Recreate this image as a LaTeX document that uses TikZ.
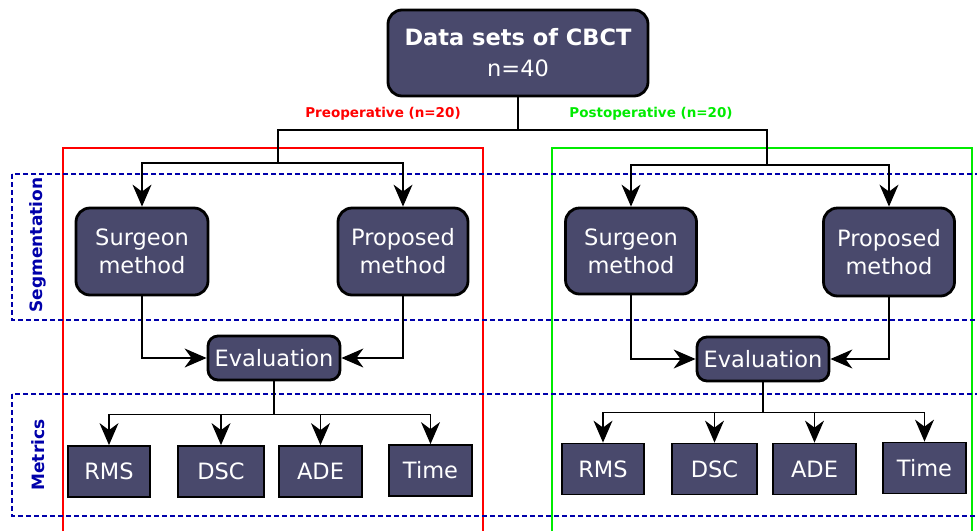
\documentclass[tikz,border=0pt]{standalone}
\usepackage{fontspec}
\setmainfont{DejaVu Sans}
\usetikzlibrary{arrows.meta}

\definecolor{boxfill}{RGB}{73,73,108}
\definecolor{segblue}{RGB}{0,0,170}
\definecolor{postgreen}{RGB}{0,235,0}

\begin{document}
\begin{tikzpicture}[x=1pt, y=-1pt,
    box/.style={draw=black, line width=2.8pt, rounded corners=14pt, fill=boxfill, text=white, align=center, font=\fontsize{22.5}{28}\selectfont},
    metric/.style={draw=black, line width=1.8pt, fill=boxfill, text=white, minimum height=51pt, font=\fontsize{22.5}{28}\selectfont},
    arr/.style={line width=1.3pt, -{Stealth[length=22pt, width=19pt, inset=7pt]}},
    link/.style={line width=1.3pt},
    region/.style={segblue, line width=1.4pt, dash pattern=on 5pt off 3pt},
    regionlabel/.style={segblue, rotate=90, font=\fontsize{17}{18}\selectfont\bfseries}]

\useasboundingbox (0,0) rectangle (977,531);

\draw[red, line width=1.5pt] (63,531) -- (63,148) -- (483,148) -- (483,531);
\draw[postgreen, line width=1.5pt] (552,531) -- (552,148) -- (972,148) -- (972,531);

\draw[region] (12,174) rectangle (990,320);
\draw[region] (12,394) rectangle (990,516);
\node[regionlabel] (seg) at (38,245) {Segmentation};
\node[regionlabel] (met) at (38,455) {Metrics};

\node[box, minimum width=260pt, minimum height=86pt, text depth=2pt] (data) at (518,53) {\textbf{Data sets of CBCT}\\[3pt]n=40};

\node[red, font=\fontsize{13.5}{16}\selectfont\bfseries] (pre) at (383,114) {Preoperative (n=20)};
\node[postgreen, font=\fontsize{13.5}{16}\selectfont\bfseries] (post) at (651,114) {Postoperative (n=20)};

\node[box, minimum width=132pt, minimum height=87pt] (sur1) at (142,251.5) {Surgeon\\method};
\node[box, minimum width=130pt, minimum height=87pt] (pro1) at (403,251.5) {Proposed\\method};
\node[box, minimum width=131pt, minimum height=86pt] (sur2) at (631,251) {Surgeon\\method};
\node[box, minimum width=131pt, minimum height=88pt] (pro2) at (889,252) {Proposed\\method};

\node[box, rounded corners=10pt, minimum width=132pt, minimum height=44pt, inner sep=2pt] (eva1) at (274,358) {Evaluation};
\node[box, rounded corners=10pt, minimum width=132pt, minimum height=44pt, inner sep=2pt] (eva2) at (763,359) {Evaluation};

\node[metric, minimum width=82pt] (rms1) at (109,471.5) {RMS};
\node[metric, minimum width=86pt] (dsc1) at (221,471.5) {DSC};
\node[metric, minimum width=83pt] (ade1) at (320.5,471.5) {ADE};
\node[metric, minimum width=83pt] (time1) at (430.5,470.5) {Time};
\node[metric, minimum width=82pt] (rms2) at (603,469) {RMS};
\node[metric, minimum width=85pt] (dsc2) at (714.5,469) {DSC};
\node[metric, minimum width=83pt] (ade2) at (814.5,469) {ADE};
\node[metric, minimum width=83pt] (time2) at (924.5,468) {Time};

\coordinate (split) at (518,130);
\coordinate (fork1) at (278,163);
\coordinate (fork2) at (767,165);
\draw[link] (data.south) -- (split);
\draw[link] (fork1) |- (split) -| (fork2);
\draw[arr] (fork1) -| (sur1.north);
\draw[arr] (fork1) -| (pro1.north);
\draw[arr] (fork2) -| (sur2.north);
\draw[arr] (fork2) -| (pro2.north);

\draw[arr] (sur1.south) |- (eva1.west);
\draw[arr] (pro1.south) |- (eva1.east);
\draw[arr] (sur2.south) |- (eva2.west);
\draw[arr] (pro2.south) |- (eva2.east);

\draw[link] (eva1.south) -- ++(0,33) coordinate (mfork1);
\draw[link] (eva2.south) -- ++(0,30) coordinate (mfork2);
\foreach \m in {rms1,dsc1,ade1,time1}
  \draw[arr] (mfork1) -| (\m.north);
\foreach \m in {rms2,dsc2,ade2,time2}
  \draw[arr] (mfork2) -| (\m.north);

\end{tikzpicture}
\end{document}
